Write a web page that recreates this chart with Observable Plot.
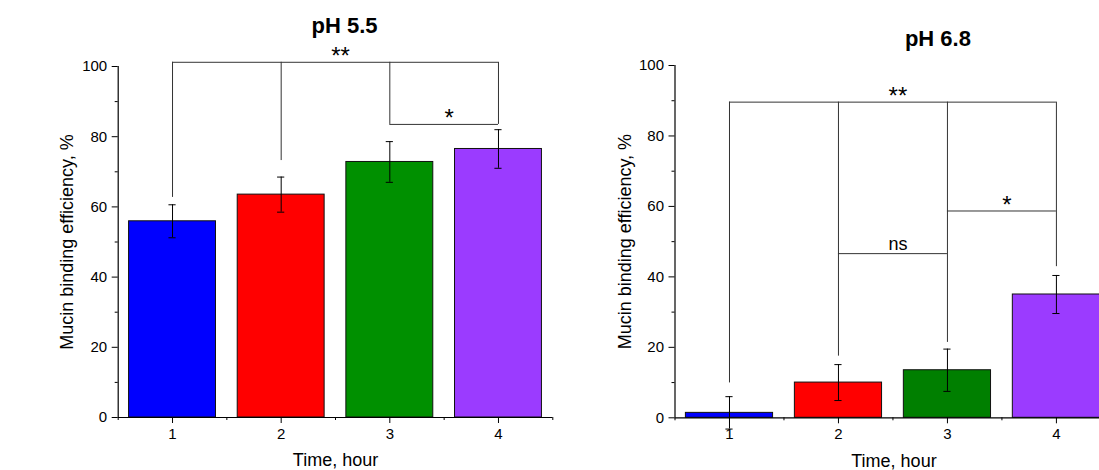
<!DOCTYPE html>
<html>
<head>
<meta charset="utf-8">
<script src="https://cdn.jsdelivr.net/npm/d3@7"></script>
<script src="https://cdn.jsdelivr.net/npm/@observablehq/plot@0.6"></script>
<style>
  html, body { margin: 0; padding: 0; background: #fff; }
  #wrap { position: relative; width: 1099px; height: 470px; overflow: hidden; background: #fff; }
  .panel { position: absolute; top: 0; width: 560px; height: 470px; }
  .panel svg { max-width: none !important; }
</style>
</head>
<body>
<div id="wrap">
  <div class="panel" id="left" style="left:0px"></div>
  <div class="panel" id="right" style="left:560px"></div>
</div>
<script>
// ---- data ----
const times = [1, 2, 3, 4];
const xTickLabels = ["1", "2", "3", "4"];
const yTicks = [0, 20, 40, 60, 80, 100];
const yMinorTicks = [10, 30, 50, 70, 90];
const xMinorTicks = [0.5, 1.5, 2.5, 3.5, 4.5];

const acidTitle = "pH 5.5";
const acidMeans = [55.9, 63.5, 72.8, 76.5];
const acidErrors = [4.7, 5.0, 5.8, 5.5];
const acidColors = ["#0000ff", "#ff0000", "#009000", "#9b3bff"];
const acidBrackets = [
  {from: 1, to: 4, level: 101.2, label: "**"},
  {from: 3, to: 4, level: 83.5, label: "*"}
];
const acidLegTop = 101.2;
const acidLegBottoms = [62.7, 73.2, 83.5, 83.5];

const neutralTitle = "pH 6.8";
const neutralMeans = [1.4, 10.0, 13.5, 35.0];
const neutralErrors = [4.6, 5.1, 6.0, 5.4];
const neutralColors = ["#0000ff", "#ff0000", "#007f00", "#9b3bff"];
const neutralBrackets = [
  {from: 1, to: 4, level: 89.6, label: "**"},
  {from: 2, to: 3, level: 46.6, label: "ns"},
  {from: 3, to: 4, level: 58.7, label: "*"}
];
const neutralLegTop = 89.6;
const neutralLegBottoms = [9.9, 17.5, 21.4, 42.9];

const xLabel = "Time, hour";
const yLabel = "Mucin binding efficiency, %";

// ---- drawing ----
const FONT = "'Liberation Sans', Arial, Helvetica, sans-serif";

function panel(o) {
  const rows = times.map((t, i) => ({t, mean: o.means[i], err: o.errors[i], color: o.colors[i]}));
  const legs = times.map((t, i) => ({t, top: o.legTop, bottom: o.legBottoms[i]}));
  const starLabels = o.brackets.filter(b => b.label !== "ns");
  const nsLabels = o.brackets.filter(b => b.label === "ns");
  const cap = 0.033;
  return Plot.plot({
    width: o.width,
    height: 470,
    marginLeft: o.marginLeft,
    marginRight: o.marginRight,
    marginTop: o.marginTop,
    marginBottom: o.marginBottom,
    style: {fontFamily: FONT, fontSize: "15px", color: "black", background: "transparent", overflow: "visible", maxWidth: "none"},
    x: {domain: [0.5, 4.5], axis: null},
    y: {domain: [0, 100], axis: null},
    color: {type: "identity"},
    marks: [
      // bars
      Plot.rectY(rows, {x1: d => d.t - 0.4, x2: d => d.t + 0.4, y: "mean", fill: "color", stroke: "#111", strokeWidth: 1}),
      // error bars
      Plot.ruleX(rows, {x: "t", y1: d => d.mean - d.err, y2: d => d.mean + d.err, stroke: "#000", strokeWidth: 1}),
      Plot.ruleY(rows, {y: d => d.mean + d.err, x1: d => d.t - cap, x2: d => d.t + cap, stroke: "#000", strokeWidth: 1}),
      Plot.ruleY(rows, {y: d => d.mean - d.err, x1: d => d.t - cap, x2: d => d.t + cap, stroke: "#000", strokeWidth: 1}),
      // significance brackets
      Plot.ruleX(legs, {x: "t", y1: "bottom", y2: "top", stroke: "#333", strokeWidth: 1}),
      Plot.ruleY(o.brackets, {y: "level", x1: "from", x2: "to", stroke: "#333", strokeWidth: 1}),
      Plot.text(starLabels, {x: d => (d.from + d.to) / 2, y: "level", text: "label", dx: 5, dy: 2, lineAnchor: "bottom", fontSize: 24, fill: "#000"}),
      Plot.text(nsLabels, {x: d => (d.from + d.to) / 2, y: "level", text: "label", dx: 5, dy: -4, lineAnchor: "bottom", fontSize: 18, fill: "#000"}),
      // axes lines
      Plot.ruleX([0.5], {y1: 0, y2: 100, stroke: "#000", strokeWidth: 1.2}),
      Plot.ruleY([0], {x1: 0.5, x2: 4.5, stroke: "#000", strokeWidth: 1.2}),
      // ticks
      Plot.axisY({ticks: yTicks, tickSize: 6, tickPadding: 5, fontSize: 15, label: null, anchor: "left"}),
      Plot.axisY({ticks: yMinorTicks, tickSize: 3, tickFormat: () => "", label: null, anchor: "left"}),
      Plot.axisX({ticks: times, tickSize: 6, tickPadding: 5, fontSize: 15, label: null, anchor: "bottom", tickFormat: (d) => xTickLabels[times.indexOf(d)]}),
      Plot.axisX({ticks: xMinorTicks, tickSize: 3, tickFormat: () => "", label: null, anchor: "bottom"}),
      // titles & labels
      Plot.text([o.title], {text: d => d, frameAnchor: "top", lineAnchor: "middle", textAnchor: "middle", dx: o.titleDx, dy: o.titleDy, fontSize: 22, fontWeight: "bold", fill: "#000"}),
      Plot.text([xLabel], {text: d => d, frameAnchor: "bottom", lineAnchor: "middle", textAnchor: "middle", dx: o.xLabelDx, dy: 43, fontSize: 18, fill: "#000"}),
      Plot.text([yLabel], {text: d => d, frameAnchor: "left", lineAnchor: "middle", textAnchor: "middle", rotate: -90, dx: o.yLabelDx, fontSize: 18, fill: "#000"})
    ]
  });
}

document.getElementById("left").append(panel({
  means: acidMeans, errors: acidErrors, colors: acidColors,
  brackets: acidBrackets, legTop: acidLegTop, legBottoms: acidLegBottoms,
  title: acidTitle,
  width: 560, marginLeft: 117.7, marginRight: 7.7, marginTop: 66, marginBottom: 53,
  titleDx: 9, titleDy: -41, xLabelDx: 0, yLabelDx: -51
}));

document.getElementById("right").append(panel({
  means: neutralMeans, errors: neutralErrors, colors: neutralColors,
  brackets: neutralBrackets, legTop: neutralLegTop, legBottoms: neutralLegBottoms,
  title: neutralTitle,
  width: 560, marginLeft: 114.5, marginRight: 9.6, marginTop: 65, marginBottom: 52.7,
  titleDx: 45, titleDy: -27, xLabelDx: 1, yLabelDx: -49.5
}));
</script>
</body>
</html>
